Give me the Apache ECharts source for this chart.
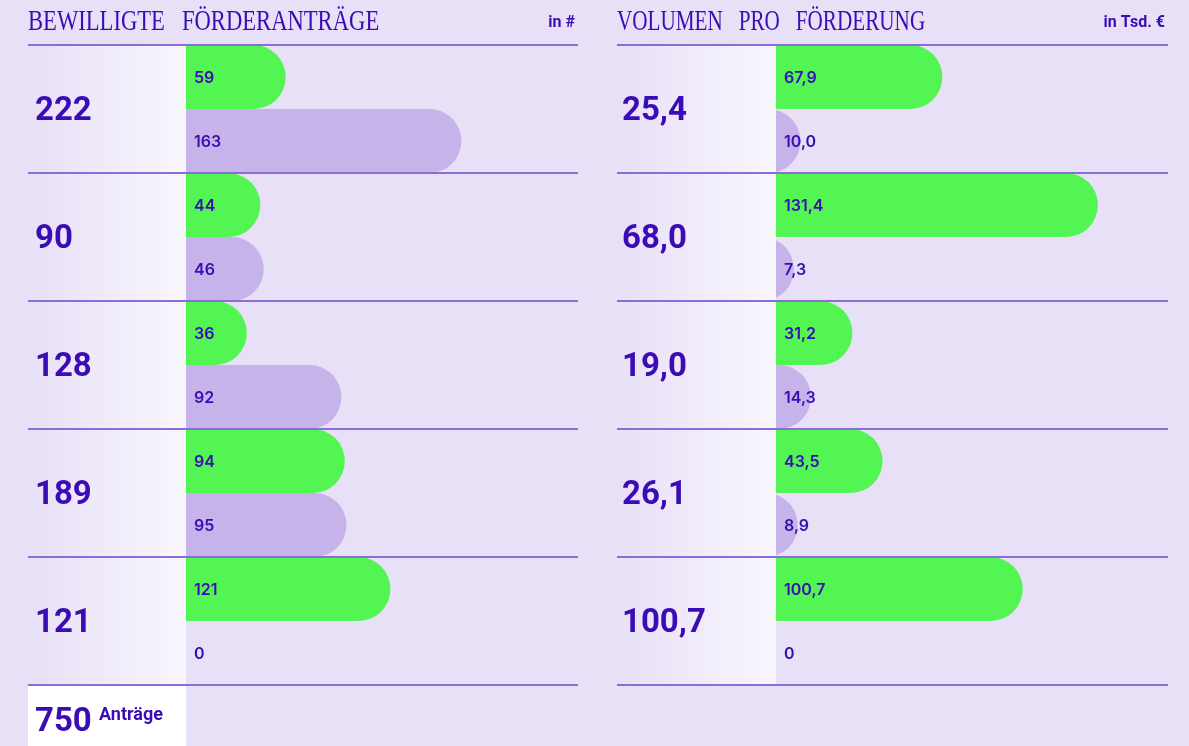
<!DOCTYPE html>
<html>
<head>
<meta charset="utf-8">
<script src="https://cdn.jsdelivr.net/npm/echarts@6/dist/echarts.min.js"></script>
<style>
  html, body { margin: 0; padding: 0; background: #e8e0f7; }
  #main { width: 1189px; height: 746px; }
</style>
</head>
<body>
<div id="main"></div>
<script>
// Bewilligte Förderanträge (Anzahl)
var antraegeGesamt = ['222', '90', '128', '189', '121'];
var antraegeGruen = [59, 44, 36, 94, 121];
var antraegeLila = [163, 46, 92, 95, 0];
var antraegeSumme = '750';

// Volumen pro Förderung (in Tsd. €)
var volumenGesamt = ['25,4', '68,0', '19,0', '26,1', '100,7'];
var volumenGruen = [67.9, 131.4, 31.2, 43.5, 100.7];
var volumenLila = [10.0, 7.3, 14.3, 8.9, 0];

var violett = '#3b0cb6';
var gruen = '#52f552';
var lila = '#c5b3ea';
var linie = '#8b6dd9';

var myChart = echarts.init(document.getElementById('main'));

// halbe Zeile zeichnen: oben (0) oder unten (1), rechts rund
// gesamt: Summen der Zeilen, links in der Verlaufsspalte
function halbBalken(unten, farbe, komma, gesamt, abstand) {
  return function (params, api) {
    var wert = api.value(0);
    var idx = api.value(1);
    var start = api.coord([0, idx]);
    var ende = api.coord([wert, idx]);
    var band = api.size([0, 1])[1];
    var h = band / 2;
    var y1 = start[1] - band / 2 + unten * h;
    var yc = y1 + h / 2;
    var r = h / 2;
    var x0 = start[0];
    var w = ende[0] - x0;
    var kinder = [];
    if (w > 0) {
      var pfad;
      if (w >= r) {
        var cx = x0 + w - r;
        pfad = 'M' + x0 + ' ' + y1 + ' L' + cx + ' ' + y1 +
          ' A' + r + ' ' + r + ' 0 0 1 ' + cx + ' ' + (y1 + h) +
          ' L' + x0 + ' ' + (y1 + h) + ' Z';
      } else {
        var dy = Math.sqrt(r * r - (r - w) * (r - w));
        pfad = 'M' + x0 + ' ' + (yc - dy) +
          ' A' + r + ' ' + r + ' 0 0 1 ' + x0 + ' ' + (yc + dy) + ' Z';
      }
      kinder.push({
        type: 'path',
        shape: { pathData: pfad },
        style: { fill: farbe }
      });
    }
    var text = (komma && wert !== 0) ? wert.toFixed(1).replace('.', ',') : String(wert);
    kinder.push({
      type: 'text',
      style: {
        x: x0 + 8, y: yc + 1, text: text,
        fill: violett, font: '600 16px Inter',
        verticalAlign: 'middle', align: 'left'
      }
    });
    if (gesamt) {
      kinder.push({
        type: 'text',
        style: {
          x: x0 - abstand, y: start[1] + 3, text: gesamt[idx],
          fill: violett, font: 'bold 33px Roboto',
          verticalAlign: 'middle', align: 'left'
        }
      });
    }
    return { type: 'group', children: kinder };
  };
}

function paare(werte) {
  return werte.map(function (v, i) { return [v, i]; });
}

// Linien, Verlaufsspalte, Titel
var graphic = [];
var panels = [
  { x1: 28, x2: 578, bx: 186, titel: 'BEWILLIGTE   FÖRDERANTRÄGE', einheit: 'in #', sx: 0.78 },
  { x1: 617, x2: 1168, bx: 776, titel: 'VOLUMEN   PRO   FÖRDERUNG', einheit: 'in Tsd. €', sx: 0.73 }
];
panels.forEach(function (p) {
  graphic.push({
    type: 'rect', z: 0,
    shape: { x: p.x1, y: 45, width: p.bx - p.x1, height: 640 },
    style: {
      fill: new echarts.graphic.LinearGradient(0, 0, 1, 0, [
        { offset: 0, color: '#e8e0f7' },
        { offset: 1, color: '#f8f6fd' }
      ])
    }
  });
  for (var i = 0; i <= antraegeGesamt.length; i++) {
    graphic.push({
      type: 'line', z: 50,
      shape: { x1: p.x1, y1: 45 + 128 * i, x2: p.x2, y2: 45 + 128 * i },
      style: { stroke: linie, lineWidth: 2 }
    });
  }
  graphic.push({
    type: 'text', z: 10, x: p.x1, y: 8, scaleX: p.sx,
    style: { text: p.titel, fill: violett, font: '29px "Liberation Serif"' }
  });
  graphic.push({
    type: 'text', z: 10,
    style: { x: p.x2 - 3, y: 23, text: p.einheit, fill: violett, font: 'bold 16px Roboto', align: 'right', verticalAlign: 'middle' }
  });
});
// Summe unten links
graphic.push({
  type: 'rect', z: 0,
  shape: { x: 28, y: 686, width: 158, height: 60 },
  style: { fill: '#ffffff' }
});
graphic.push({
  type: 'text', z: 10,
  style: { x: 35, y: 723, text: antraegeSumme, fill: violett, font: 'bold 33px Roboto', verticalAlign: 'middle' }
});
graphic.push({
  type: 'text', z: 10,
  style: { x: 99, y: 706, text: 'Anträge', fill: violett, font: 'bold 18px Roboto', verticalAlign: 'top' }
});

var option = {
  backgroundColor: '#e8e0f7',
  animation: false,
  grid: [
    { left: 186, right: 1189 - 578, top: 45, height: 640 },
    { left: 776, right: 1189 - 1168, top: 45, height: 640 }
  ],
  xAxis: [
    { type: 'value', gridIndex: 0, min: 0, max: 232, show: false },
    { type: 'value', gridIndex: 1, min: 0, max: 160, show: false }
  ],
  yAxis: [
    { type: 'category', gridIndex: 0, inverse: true, data: antraegeGesamt, show: false },
    { type: 'category', gridIndex: 1, inverse: true, data: volumenGesamt, show: false }
  ],
  graphic: graphic,
  series: [
    { type: 'custom', xAxisIndex: 0, yAxisIndex: 0, z: 5, renderItem: halbBalken(0, gruen, false, antraegeGesamt, 151), data: paare(antraegeGruen), encode: { x: 0, y: 1 } },
    { type: 'custom', xAxisIndex: 0, yAxisIndex: 0, z: 4, renderItem: halbBalken(1, lila, false), data: paare(antraegeLila), encode: { x: 0, y: 1 } },
    { type: 'custom', xAxisIndex: 1, yAxisIndex: 1, z: 5, renderItem: halbBalken(0, gruen, true, volumenGesamt, 154), data: paare(volumenGruen), encode: { x: 0, y: 1 } },
    { type: 'custom', xAxisIndex: 1, yAxisIndex: 1, z: 4, renderItem: halbBalken(1, lila, true), data: paare(volumenLila), encode: { x: 0, y: 1 } }
  ]
};
myChart.setOption(option);
</script>
</body>
</html>
